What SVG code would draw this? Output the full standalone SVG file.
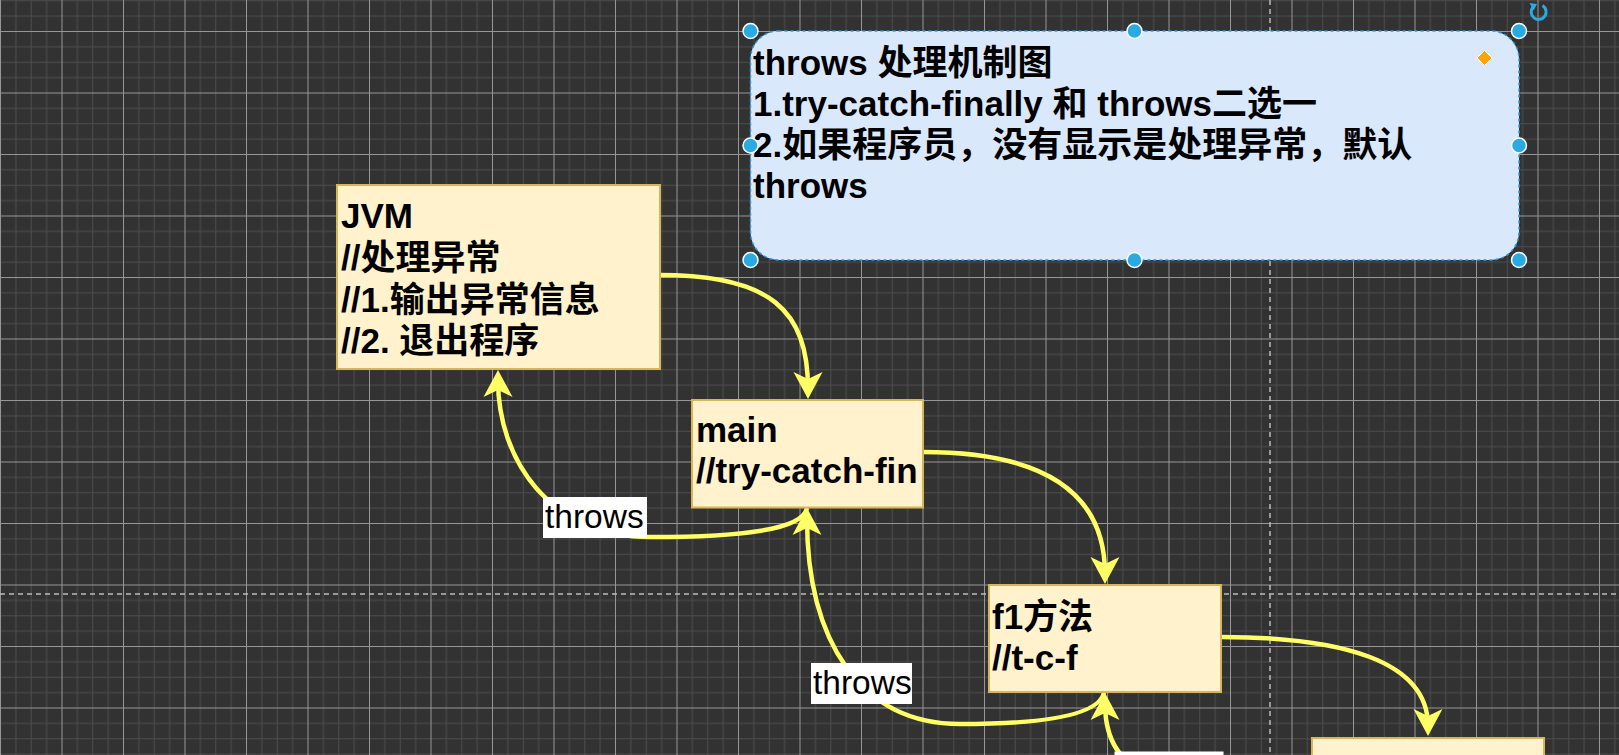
<svg xmlns="http://www.w3.org/2000/svg" width="1619" height="755" viewBox="0 0 1619 755">
  <defs>
    <pattern id="grid" patternUnits="userSpaceOnUse" x="0" y="31" width="61.5" height="61.5">
      <rect x="0" y="0" width="61.5" height="61.5" fill="#323232"/>
      <g fill="#4d4d4d">
        <rect x="15.375" y="0" width="1" height="61.5"/>
        <rect x="30.75" y="0" width="1" height="61.5"/>
        <rect x="46.125" y="0" width="1" height="61.5"/>
        <rect x="0" y="15.375" width="61.5" height="1"/>
        <rect x="0" y="30.75" width="61.5" height="1"/>
        <rect x="0" y="46.125" width="61.5" height="1"/>
      </g>
      <g fill="#969696">
        <rect x="0" y="0" width="1" height="61.5"/>
        <rect x="0" y="0" width="61.5" height="1"/>
      </g>
    </pattern>
    <marker id="arrow" markerUnits="userSpaceOnUse" viewBox="-30 -16 32 32" markerWidth="32" markerHeight="32" refX="-10" refY="0" orient="auto">
      <path d="M0,0 L-27,-14.5 L-20,0 L-27,14.5 Z" fill="#ffff66"/>
    </marker>
    <style>
      .box { fill: #fff2cc; stroke: #d6b656; stroke-width: 2; }
      .t { font-family: "Liberation Sans", "Noto Sans CJK SC", sans-serif; font-weight: bold; font-size: 35px; fill: #000000; }
      .edge { fill: none; stroke: #ffff66; stroke-width: 4.5; }
      .lblbg { fill: #ffffff; }
      .lbl { font-family: "Liberation Sans", sans-serif; font-size: 33.5px; fill: #000000; }
      .handle { fill: #29abe2; stroke: #ffffff; stroke-width: 1.5; }
      .dash { stroke: #bcbcbc; stroke-width: 1.5; stroke-dasharray: 5 4; fill: none; }
    </style>
  </defs>

  <g id="background">
    <rect x="0" y="0" width="1619" height="755" fill="url(#grid)"/>
    <line class="dash" x1="0" y1="594" x2="1619" y2="594"/>
    <line class="dash" x1="1270" y1="0" x2="1270" y2="755"/>
  </g>

  <g id="connectors">
    <path class="edge" marker-end="url(#arrow)" d="M660,275 C770,275 808,310 808,389"/>
    <path class="edge" marker-end="url(#arrow)" d="M807,508 C803,530 740,537 650,537 C550,537 498,460 498,380"/>
    <path class="edge" marker-end="url(#arrow)" d="M923,452 C1040,452 1105,490 1105,574"/>
    <path class="edge" marker-end="url(#arrow)" d="M1104,692 C1100,716 1040,724 960,724 C860,724 807,640 807,518"/>
    <path class="edge" marker-end="url(#arrow)" d="M1221,637 C1340,637 1428,660 1428,726"/>
    <path class="edge" marker-end="url(#arrow)" d="M1170,778 C1122,772 1105,742 1105,703"/>
    <g id="label-throws-1">
      <rect class="lblbg" x="543" y="497" width="104" height="41"/>
      <text class="lbl" x="545" y="528">throws</text>
    </g>
    <g id="label-throws-2">
      <rect class="lblbg" x="811" y="663" width="101" height="41"/>
      <text class="lbl" x="813" y="693.5">throws</text>
    </g>
    <g id="label-throws-3">
      <rect class="lblbg" x="1114.5" y="751.5" width="109" height="10"/>
    </g>
  </g>

  <g id="node-jvm">
    <rect class="box" x="337" y="185" width="323" height="184"/>
    <text class="t" x="341" y="228">JVM</text>
    <text class="t" x="341" y="270">//处理异常</text>
    <text class="t" x="341" y="311.5">//1.输出异常信息</text>
    <text class="t" x="341" y="353">//2. 退出程序</text>
  </g>

  <g id="node-main">
    <rect class="box" x="692" y="400" width="231" height="107.5"/>
    <text class="t" x="696" y="441.5">main</text>
    <text class="t" x="696" y="482.5">//try-catch-fin</text>
  </g>

  <g id="node-f1">
    <rect class="box" x="989" y="585" width="232" height="107"/>
    <text class="t" x="992" y="629">f1方法</text>
    <text class="t" x="992" y="669.5">//t-c-f</text>
  </g>

  <g id="node-next">
    <rect class="box" x="1312" y="738" width="232" height="107"/>
  </g>

  <g id="node-note">
    <rect x="750.5" y="31" width="768.5" height="229" rx="28" ry="28" fill="#dae8fc"/>
    <rect x="750.5" y="31" width="768.5" height="229" rx="28" ry="28" fill="none" stroke="#2c9de6" stroke-width="1.5" stroke-dasharray="3 3"/>
    <text class="t" x="753" y="75">throws 处理机制图</text>
    <text class="t" x="753" y="116">1.try-catch-finally 和 throws二选一</text>
    <text class="t" x="753" y="157">2.如果程序员，没有显示是处理异常，默认</text>
    <text class="t" x="753" y="198">throws</text>
    <circle class="handle" cx="750.5" cy="31" r="7.5"/>
    <circle class="handle" cx="1134.5" cy="31" r="7.5"/>
    <circle class="handle" cx="1519" cy="31" r="7.5"/>
    <circle class="handle" cx="750.5" cy="145.5" r="7.5"/>
    <circle class="handle" cx="1519" cy="145.5" r="7.5"/>
    <circle class="handle" cx="750.5" cy="260" r="7.5"/>
    <circle class="handle" cx="1134.5" cy="260" r="7.5"/>
    <circle class="handle" cx="1519" cy="260" r="7.5"/>
    <path d="M1484.5,50.5 L1492,58 L1484.5,65.5 L1477,58 Z" fill="#ffa500" stroke="#ffffff" stroke-width="1"/>
    <path d="M1533,7 A7.5,7.5 0 1 0 1542.5,5.5" fill="none" stroke="#29abe2" stroke-width="3"/>
    <path d="M1529.5,3 L1537,4 L1533.5,10.5 Z" fill="#29abe2"/>
  </g>
</svg>
